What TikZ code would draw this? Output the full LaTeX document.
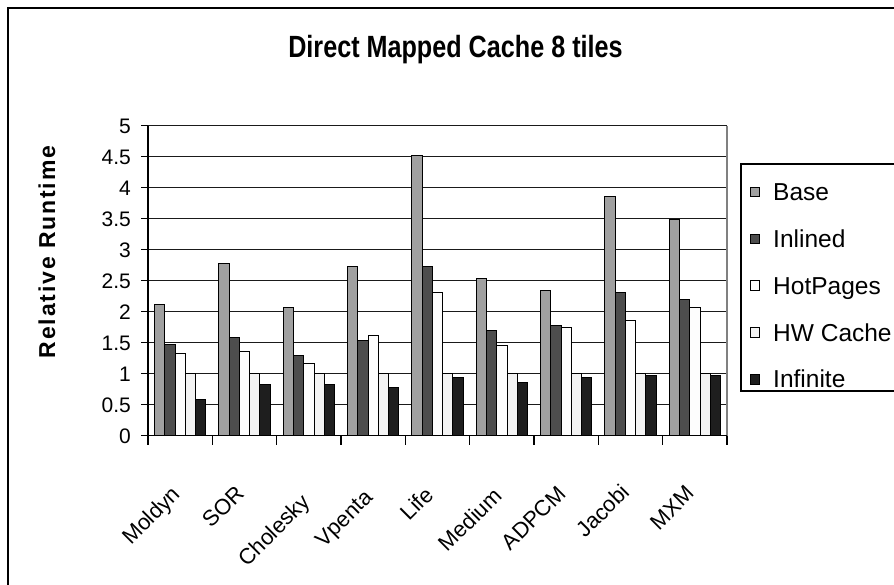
\documentclass[tikz,border=0pt]{standalone}
\usepackage{fontspec}
\setmainfont{Liberation Sans}
\newfontfamily\spacedfont[LetterSpace=8]{Liberation Sans}
\definecolor{serA}{HTML}{A0A0A0}
\definecolor{serB}{HTML}{4D4D4D}
\definecolor{serC}{HTML}{FDFDFD}
\definecolor{serD}{HTML}{F3F3F3}
\definecolor{serE}{HTML}{1E1E1E}
\definecolor{gridc}{HTML}{1A1A1A}
\begin{document}
\begin{tikzpicture}[x=1pt,y=-1pt,
  gridline/.style={draw=gridc,line width=1.3pt},
  barbox/.style={draw=black,line width=0.9pt},
  ticklbl/.style={font=\fontsize{21}{23}\selectfont,anchor=east,inner sep=0pt},
  catlbl/.style={font=\fontsize{22}{24}\selectfont,rotate=45,anchor=north east,inner sep=0pt},
  legtxt/.style={font=\fontsize{24.5}{26}\selectfont,anchor=base west,inner sep=0pt},
  legkey/.style={draw=black,line width=0.8pt,minimum size=9.5pt,inner sep=0pt}]
\useasboundingbox (0,0) rectangle (894,584);
\clip (0,0) rectangle (894,584);
\fill[white] (0,0) rectangle (894,584);

% chart frame
\draw[line width=2pt] (8,8) rectangle (920,610);

% title
\node[font=\bfseries\fontsize{30.7}{32}\selectfont,anchor=base,inner sep=0pt] (title) at (455.5,57)
  {\scalebox{0.82}[1]{Direct Mapped Cache 8 tiles}};

% plot area: 0 at y=435.7, 62.04 px per unit; x from 148 to 727
\def\ybase{435.7}
\def\yunit{62.04}
\def\cat{64.33}
\def\bw{10.29}

% gridlines
\foreach \v in {0.5,1,...,5.0}
  \draw[gridline] (148,{\ybase-\yunit*\v}) -- (727,{\ybase-\yunit*\v});
\draw[draw=gray,line width=1.3pt] (727,{\ybase-\yunit*5}) -- (727,\ybase);

% bars: Base, Inlined, HotPages, HW Cache, Infinite for each benchmark
\foreach \vals [count=\i from 0] in {
  {2.12,1.47,1.33,1.0,0.58},
  {2.78,1.58,1.36,1.0,0.83},
  {2.06,1.30,1.16,1.0,0.83},
  {2.73,1.53,1.61,1.0,0.77},
  {4.52,2.73,2.31,1.0,0.94},
  {2.54,1.70,1.46,1.0,0.86},
  {2.34,1.78,1.74,1.0,0.94},
  {3.85,2.31,1.86,1.0,0.97},
  {3.48,2.20,2.06,1.0,0.97}}{
  \foreach \v [count=\j from 0] in \vals {
    \ifcase\j \def\fc{serA}\or \def\fc{serB}\or \def\fc{serC}\or \def\fc{serD}\else \def\fc{serE}\fi
    \filldraw[barbox,fill=\fc]
      ({148+\cat*\i+0.625*\bw+\bw*\j},\ybase) rectangle
      ({148+\cat*\i+0.625*\bw+\bw*(\j+1)},{\ybase-\yunit*\v});
  }
}

% axes and tick marks
\draw[black,line width=1.3pt] (148,{\ybase-\yunit*5}) -- (148,\ybase) -- (727,\ybase);
\foreach \v/\t in {0/0,0.5/0.5,1/1,1.5/1.5,2/2,2.5/2.5,3/3,3.5/3.5,4/4,4.5/4.5,5/5} {
  \draw[black,line width=1.3pt] (141,{\ybase-\yunit*\v}) -- (148,{\ybase-\yunit*\v});
  \node[ticklbl] at (131,{\ybase-\yunit*\v+1}) {\t};
}
\foreach \k in {0,...,9}
  \draw[black,line width=1.3pt] ({148+\cat*\k},\ybase) -- ++(0,9);

% category labels (per-label nudges dx / top y)
\foreach \name/\dx/\dy [count=\i from 0] in {Moldyn/-10/484,SOR/-10/484,Cholesky/-9/492,Vpenta/-10/488,Life/-14/485,Medium/-10/486,ADPCM/-10/484,Jacobi/-11/482,MXM/-10/484}
  \node[catlbl] at ({148+\cat*(\i+0.5)+\dx},\dy) {\name};

% value axis title
\node[font=\spacedfont\bfseries\fontsize{23}{25}\selectfont,rotate=90,inner sep=0pt] (ytitle) at (47,252) {Relative Runtime};

% legend
\draw[black,line width=1.3pt] (741,164) rectangle (920,391);
\foreach \lab/\c [count=\k from 0] in {Base/serA,Inlined/serB,HotPages/serC,HW Cache/serD,Infinite/serE} {
  \node[legkey,fill=\c] (key\k) at (754.7,{192+46.8*\k}) {};
  \node[legtxt] (leg\k) at (773,{200.7+46.8*\k}) {\lab};
}
\end{tikzpicture}
\end{document}
